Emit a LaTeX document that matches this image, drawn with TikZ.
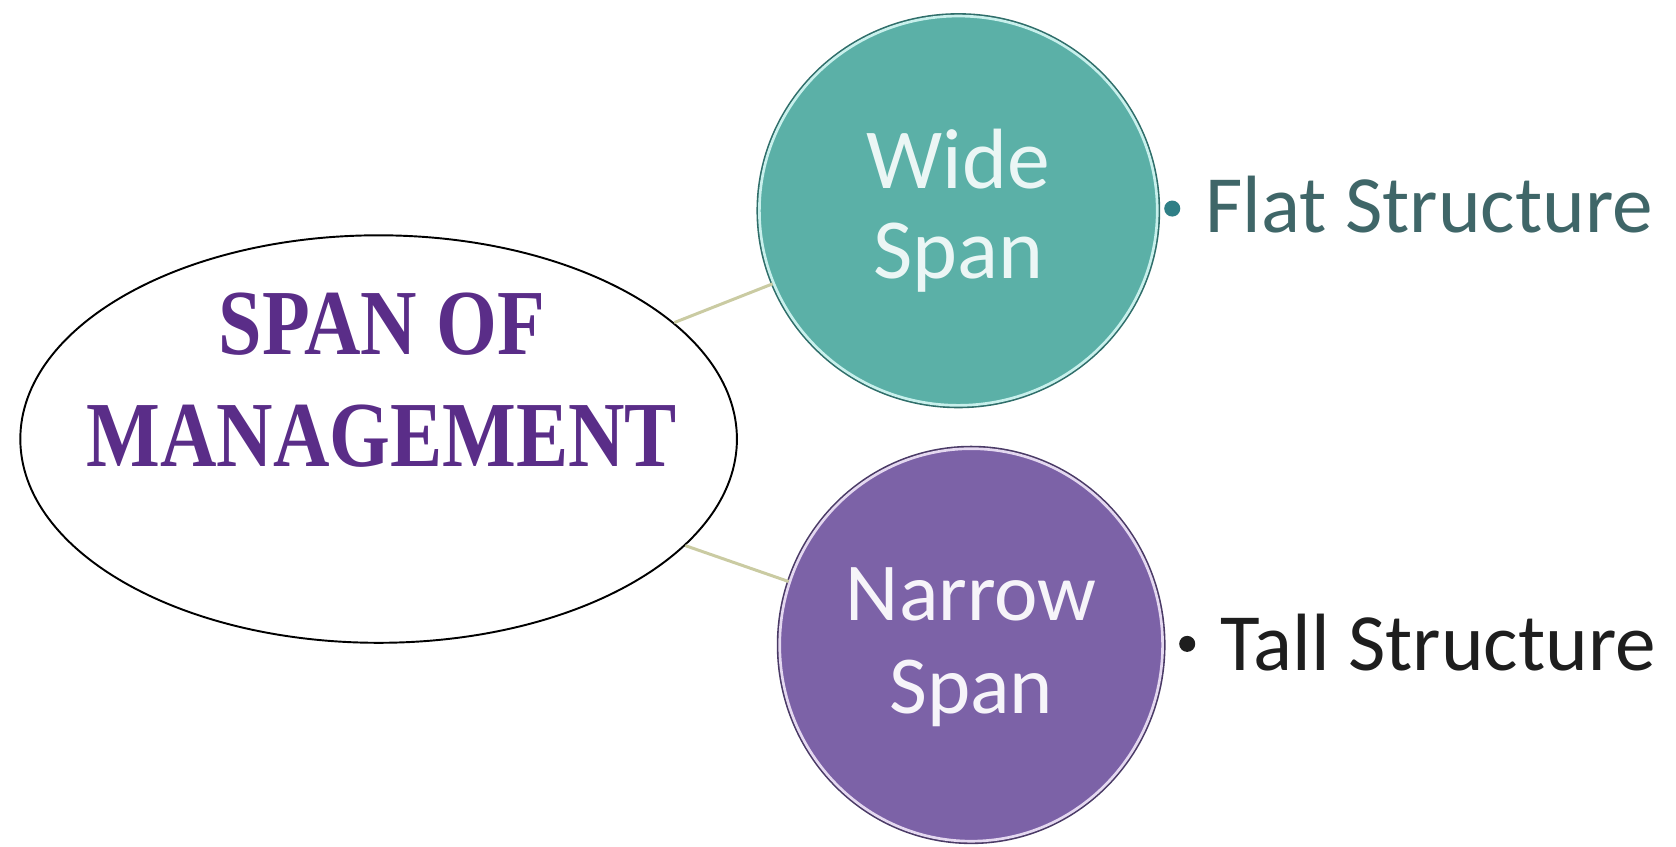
\documentclass[tikz,border=0pt]{standalone}
\usepackage{fontspec}
\setmainfont{Carlito}
\newfontfamily\titlefont[FakeStretch=0.84]{Liberation Serif}
\usetikzlibrary{shapes.geometric}
\definecolor{tealfill}{HTML}{5BB0A7}
\definecolor{tealedge}{HTML}{2F6E6A}
\definecolor{tealring}{HTML}{C8F0EC}
\definecolor{purpfill}{HTML}{7C62A7}
\definecolor{purpedge}{HTML}{4A3A66}
\definecolor{purpring}{HTML}{E4D8F0}
\definecolor{titlepurple}{HTML}{5A2D88}
\definecolor{linkcol}{HTML}{CACBA2}
\definecolor{flatcol}{HTML}{3F6668}
\definecolor{tallcol}{HTML}{1E1E1E}
\definecolor{dotteal}{HTML}{2F7F86}
\tikzset{
  mainell/.style={ellipse, draw=black, line width=1.8pt, fill=white, inner sep=0pt},
  spancirc/.style={ellipse, inner sep=0pt, line width=2.5pt, align=center},
  linkline/.style={draw=linkcol, line width=2.8pt},
  itemtext/.style={anchor=base west, inner sep=0pt, font=\fontsize{76}{80}\selectfont},
  bulletdot/.style={circle, inner sep=0pt, minimum size=15pt}
}
\begin{document}
\begin{tikzpicture}[x=1pt,y=-1pt]
\useasboundingbox (0,0) rectangle (1567,791);
\node[mainell, minimum width=670pt, minimum height=381pt] (main) at (354,410.5) {};
\node[spancirc, fill=tealfill, draw=tealring, preaction={draw=tealedge, line width=5.5pt},
      minimum width=372pt, minimum height=364pt, text=white!88!tealfill,
      font=\fontsize{80}{84}\selectfont] (wide) at (896,197) {Wide\\Span};
\node[spancirc, fill=purpfill, draw=purpring, preaction={draw=purpedge, line width=5.5pt},
      minimum width=358pt, minimum height=367pt, text=white!93!purpfill,
      font=\fontsize{77}{87}\selectfont] (narrow) at (908,603) {Narrow\vphantom{l}\\Span};
\draw[linkline] (main) -- (wide);
\draw[linkline] (main) -- (narrow);
\node[align=center, inner sep=0pt, text=titlepurple,
      font=\titlefont\bfseries\fontsize{87}{104}\selectfont] (title) at (357,355.5)
      {SPAN OF\\MANAGEMENT};
\node[bulletdot, fill=dotteal] (flatdot) at (1096,195) {};
\node[itemtext, text=flatcol] (flat) at (1127,217) {Flat Structure};
\node[bulletdot, fill=tallcol] (talldot) at (1110,602) {};
\node[itemtext, text=tallcol] (tall) at (1141,627) {Tall Structure};
\end{tikzpicture}
\end{document}
